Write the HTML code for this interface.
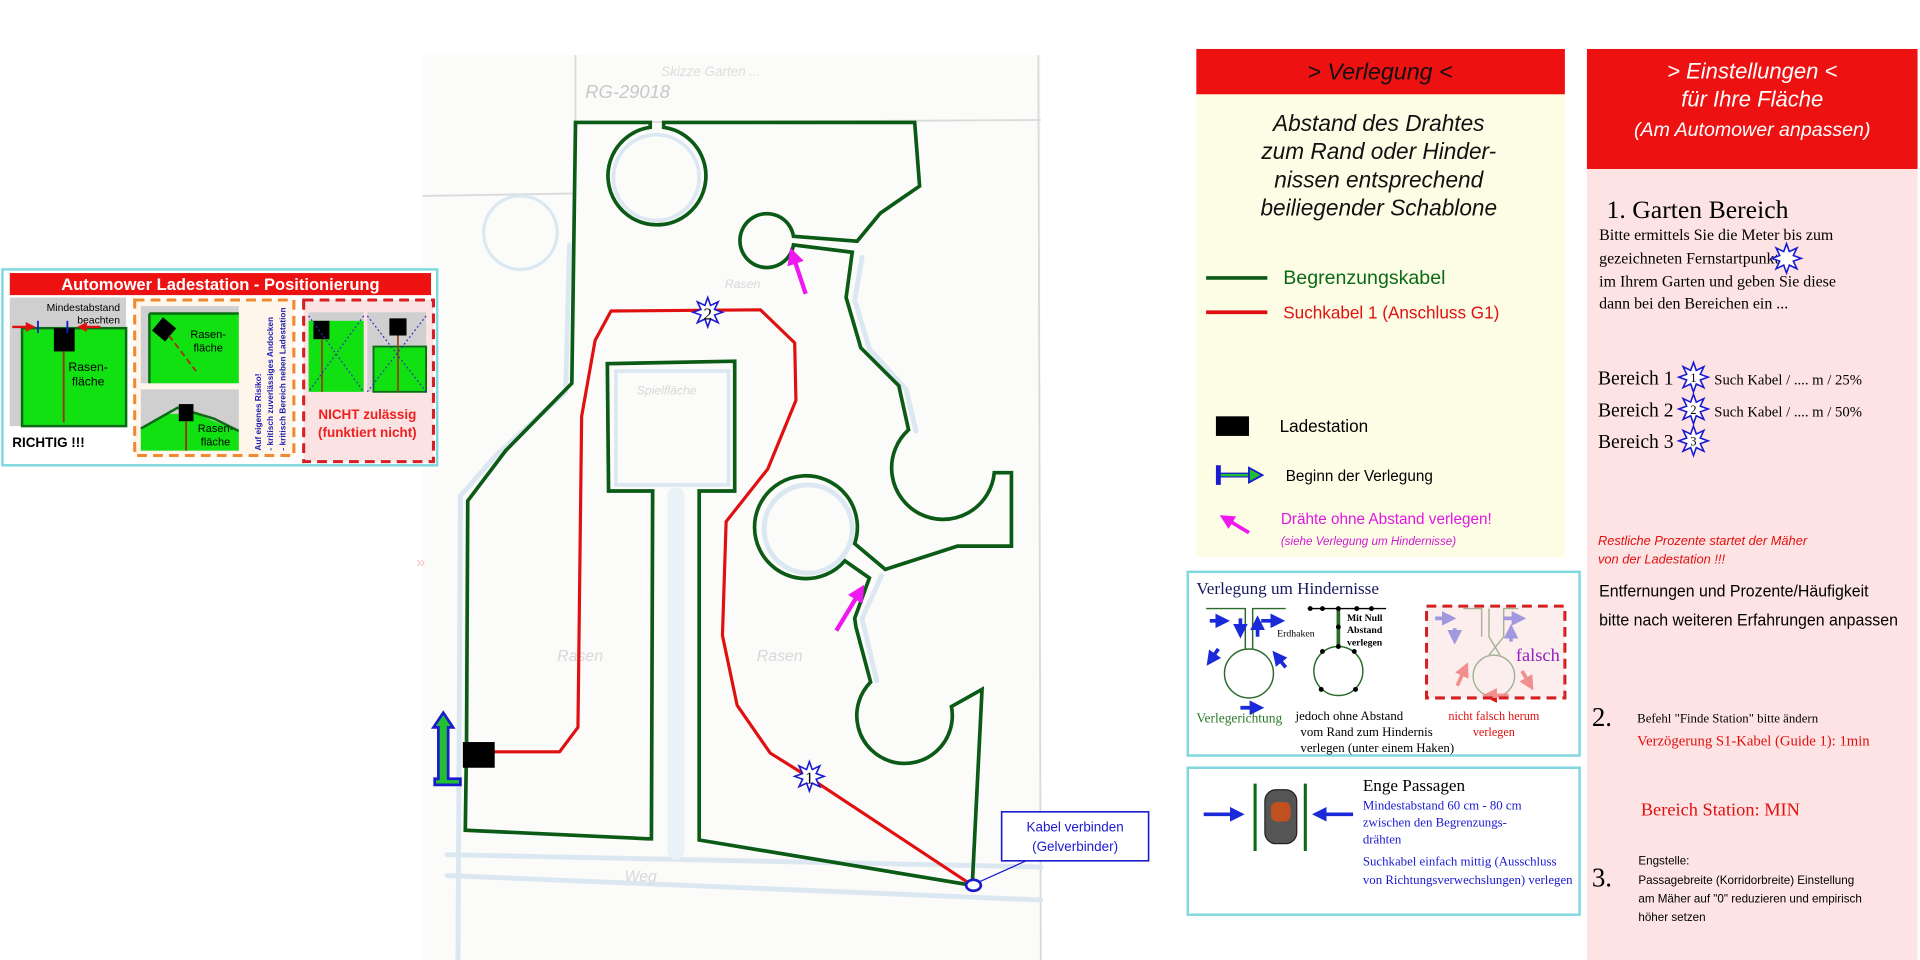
<!DOCTYPE html>
<html><head><meta charset="utf-8"><style>
html,body{margin:0;padding:0;background:#fff;width:1920px;height:960px;overflow:hidden}
svg{display:block}
text{font-family:"Liberation Sans",sans-serif}
.s,.s text,text.s{font-family:"Liberation Serif",serif}
</style></head><body>
<svg width="1920" height="960" viewBox="0 0 1568 784" xmlns="http://www.w3.org/2000/svg">
<defs>
<polygon id="st" points="0,-12 2.3,-5.54 8.49,-8.49 5.54,-2.3 12,0 5.54,2.3 8.49,8.49 2.3,5.54 0,12 -2.3,5.54 -8.49,8.49 -5.54,2.3 -12,0 -5.54,-2.3 -8.49,-8.49 -2.3,-5.54" fill="#fff" stroke="#1a1ad0" stroke-width="1.3"/>
<marker id="ab" markerWidth="4" markerHeight="4" refX="2.5" refY="2" orient="auto" markerUnits="strokeWidth"><path d="M0,0 L4,2 L0,4 z" fill="#1a2ad8"/></marker>
<marker id="ar" markerWidth="4" markerHeight="4" refX="2.5" refY="2" orient="auto" markerUnits="strokeWidth"><path d="M0,0 L4,2 L0,4 z" fill="#e01010"/></marker>
<marker id="am" markerWidth="4" markerHeight="4" refX="2.5" refY="2" orient="auto" markerUnits="strokeWidth"><path d="M0,0 L4,2 L0,4 z" fill="#f018f0"/></marker>
</defs>

<!-- paper sketch background -->
<rect x="345" y="45" width="505" height="739" fill="#fbfbf9"/>
<g stroke="#dadada" stroke-width="1.5" fill="none">
<line x1="470" y1="45" x2="470" y2="100"/>
<line x1="470" y1="100" x2="850" y2="98"/>
<line x1="345" y1="160" x2="470" y2="158"/>
<line x1="848" y1="45" x2="850" y2="784"/>
</g>
<text x="478" y="80" font-size="15" fill="#c8c8c8" font-style="italic">RG-29018</text>
<text x="540" y="62" font-size="11" fill="#ddd" font-style="italic">Skizze Garten ...</text>
<!-- light blue shadows -->
<g stroke="#dbe8f2" stroke-width="4" fill="none" stroke-linecap="round">
<path d="M374,784 L376,405 L405,372 L462,320 L465,200"/>
<circle cx="425" cy="190" r="30" stroke-width="2.5"/>
<line x1="365" y1="698" x2="850" y2="708"/>
<line x1="365" y1="715" x2="850" y2="735"/>
<path d="M704,210 L698,245 L710,285 L740,318 L748,352"/>
<path d="M720,470 L704,505 L716,556"/>
<rect x="503" y="303" width="92" height="93" stroke-width="3"/>
<line x1="552" y1="405" x2="552" y2="695" stroke-width="14" stroke="#eaf1f7"/>
<circle cx="660" cy="432" r="36" stroke-width="4"/>
<circle cx="536" cy="145" r="35" stroke-width="3"/>
</g>
<g font-size="13" fill="#d8d8d8" font-style="italic">
<text x="455" y="540">Rasen</text><text x="618" y="540">Rasen</text><text x="520" y="322" font-size="10">Spielfläche</text><text x="592" y="235" font-size="10">Rasen</text><text x="510" y="720">Weg</text>
</g>
<g fill="#f5c0c0" font-size="13"><text x="340" y="292">»</text><text x="340" y="463">»</text></g>

<!-- green boundary -->
<path fill="none" stroke="#0b5a16" stroke-width="3" stroke-linejoin="miter" d="
M381,606 L382,409 L413,368 L467,313 L470,100 L531,100 L531,104
A40,40 0 1 0 542,104 L542,100 L747,100 L751,152 L719,174 L700,197 L648,193
A22,22 0 1 0 648,200 L696,206 L691,243 L703,284 L734,315 L742,351
A42,42 0 1 0 812,386 L826,386 L826,446 L782,446 L723,465 L698,444
A42,42 0 1 0 690,458 L710,472 L698,505 L699,512 L711,557
A39,39 0 1 0 777,577 L802,563 L794,723 L571,686 L571,401 L600,401 L600,295 L496,297 L497,401 L533,401 L532,685 L529,685 L380,678 Z"/>

<!-- red guide cable -->
<polyline fill="none" stroke="#e01010" stroke-width="2.6" stroke-linejoin="round" points="403,614 457,614 472,594 475,340 486,278 499,254 621,253 649,280 650,327 627,383 593,426 590,519 602,576 629,615 661,635 794,723"/>

<!-- stars -->
<use href="#st" x="578" y="255"/><text x="578" y="261" text-anchor="middle" font-size="14" class="s">2</text>
<use href="#st" x="661" y="634"/><text x="661" y="640" text-anchor="middle" font-size="14" class="s">1</text>

<!-- station box & start arrow -->
<rect x="378" y="606" width="26" height="21" fill="#000"/>
<path d="M362,582 L370,594 L366,594 L366,636 L376,636 L376,641 L355,641 L355,636 L358,636 L358,594 L354,594 Z" fill="#22c030" stroke="#1a1ad0" stroke-width="2.2"/>

<!-- pink arrows -->
<line x1="658" y1="240" x2="647" y2="207" stroke="#f018f0" stroke-width="3.5" marker-end="url(#am)"/>
<line x1="683" y1="515" x2="703" y2="482" stroke="#f018f0" stroke-width="3.5" marker-end="url(#am)"/>

<!-- Kabel verbinden -->
<ellipse cx="795" cy="723" rx="6" ry="4.5" fill="#fff" stroke="#1a1ad0" stroke-width="2.2"/>
<path d="M800,720 L838,703 L850,703" fill="none" stroke="#1a1ad0" stroke-width="1"/>
<rect x="818" y="663" width="120" height="40" fill="#fff" stroke="#1a1ad0" stroke-width="1.3"/>
<text x="878" y="679" text-anchor="middle" font-size="11" fill="#1a1ad0">Kabel verbinden</text>
<text x="878" y="695" text-anchor="middle" font-size="11" fill="#1a1ad0">(Gelverbinder)</text>

<!-- ===== LEFT PANEL ===== -->
<rect x="2" y="220" width="355" height="160" fill="#fff" stroke="#7fd8e0" stroke-width="2"/>
<rect x="8" y="223" width="344" height="18" fill="#ee1111"/>
<text x="180" y="237" text-anchor="middle" font-size="13.5" font-weight="bold" fill="#fff">Automower Ladestation - Positionierung</text>
<rect x="8" y="243" width="95" height="105" fill="#cfcfcf"/>
<rect x="18" y="268" width="85" height="80" fill="#11e011" stroke="#0b6a16" stroke-width="2"/>
<rect x="44" y="268" width="17" height="19" fill="#000"/>
<line x1="52" y1="287" x2="52" y2="345" stroke="#a03010" stroke-width="1.5"/>
<text x="98" y="254" text-anchor="end" font-size="8.5">Mindestabstand</text>
<text x="98" y="264" text-anchor="end" font-size="8.5">beachten</text>
<line x1="10" y1="267" x2="26" y2="267" stroke="#e01010" stroke-width="2" marker-end="url(#ar)"/>
<line x1="82" y1="267" x2="66" y2="267" stroke="#e01010" stroke-width="2" marker-end="url(#ar)"/>
<line x1="31" y1="262" x2="31" y2="272" stroke="#1a1ad0" stroke-width="1.5"/>
<line x1="55" y1="262" x2="55" y2="272" stroke="#1a1ad0" stroke-width="1.5"/>
<text x="72" y="303" text-anchor="middle" font-size="10">Rasen-</text><text x="72" y="315" text-anchor="middle" font-size="10">fläche</text>
<text x="10" y="365" font-size="11" font-weight="bold">RICHTIG !!!</text>
<rect x="110" y="245" width="130" height="127" fill="#fff5ea" stroke="#f08a30" stroke-width="2.5" stroke-dasharray="8,5"/>
<rect x="115" y="250" width="80" height="63" fill="#cfcfcf"/>
<rect x="122" y="256" width="73" height="57" fill="#11e011"/>
<line x1="122" y1="256" x2="195" y2="256" stroke="#0b6a16" stroke-width="2"/><line x1="122" y1="256" x2="122" y2="313" stroke="#0b6a16" stroke-width="2"/>
<rect x="127" y="262" width="14" height="14" fill="#000" transform="rotate(40 134 269)"/>
<line x1="138" y1="274" x2="160" y2="303" stroke="#a03010" stroke-width="1.5" stroke-dasharray="5,3"/>
<text x="170" y="276" text-anchor="middle" font-size="9">Rasen-</text><text x="170" y="287" text-anchor="middle" font-size="9">fläche</text>
<rect x="115" y="318" width="80" height="50" fill="#cfcfcf"/>
<path d="M115,368 L115,350 L138,338 L160,338 L195,352 L195,368 Z" fill="#11e011"/>
<path d="M115,350 L145,333 L175,342 L195,352" fill="none" stroke="#0b6a16" stroke-width="2"/>
<rect x="146" y="330" width="12" height="14" fill="#000"/>
<line x1="152" y1="344" x2="152" y2="368" stroke="#a03010" stroke-width="1.5"/>
<text x="176" y="353" text-anchor="middle" font-size="9">Rasen-</text><text x="176" y="364" text-anchor="middle" font-size="9">fläche</text>
<g font-size="6.8" font-weight="bold" fill="#2020b0">
<text transform="translate(213,368) rotate(-90)">Auf eigenes Risiko!</text>
<text transform="translate(223,368) rotate(-90)">- kritisch zuverlässiges Andocken</text>
<text transform="translate(233,368) rotate(-90)">- kritisch Bereich neben Ladestation</text>
</g>
<rect x="248" y="245" width="106" height="132" fill="#fbe3e3" stroke="#d42020" stroke-width="2.5" stroke-dasharray="8,5"/>
<rect x="252" y="255" width="45" height="65" fill="#cfcfcf"/><rect x="252" y="262" width="45" height="58" fill="#11e011"/>
<rect x="256" y="262" width="13" height="15" fill="#000"/>
<line x1="263" y1="277" x2="263" y2="320" stroke="#a03010" stroke-width="1.3"/>
<line x1="252" y1="258" x2="297" y2="320" stroke="#3030c0" stroke-dasharray="1.5,2"/><line x1="297" y1="258" x2="252" y2="320" stroke="#3030c0" stroke-dasharray="1.5,2"/>
<rect x="300" y="255" width="48" height="65" fill="#cfcfcf"/><rect x="305" y="283" width="43" height="37" fill="#11e011" stroke="#0b6a16" stroke-width="1.5"/>
<rect x="318" y="260" width="14" height="14" fill="#000"/>
<line x1="325" y1="274" x2="325" y2="320" stroke="#a03010" stroke-width="1.3"/>
<line x1="300" y1="258" x2="348" y2="320" stroke="#3030c0" stroke-dasharray="1.5,2"/><line x1="348" y1="258" x2="300" y2="320" stroke="#3030c0" stroke-dasharray="1.5,2"/>
<text x="300" y="342" text-anchor="middle" font-size="11" font-weight="bold" fill="#ee2020">NICHT zulässig</text>
<text x="300" y="357" text-anchor="middle" font-size="11" font-weight="bold" fill="#ee2020">(funktiert nicht)</text>

<!-- ===== VERLEGUNG COLUMN ===== -->
<rect x="977" y="77" width="301" height="378" fill="#fdfde6"/>
<rect x="977" y="40" width="301" height="37" fill="#ee1111"/>
<text x="1127" y="65" text-anchor="middle" font-size="19" font-style="italic" fill="#111">&gt; Verlegung &lt;</text>
<g font-size="18.5" font-style="italic" text-anchor="middle" fill="#111">
<text x="1126" y="107">Abstand des Drahtes</text>
<text x="1126" y="130">zum Rand oder Hinder-</text>
<text x="1126" y="153">nissen entsprechend</text>
<text x="1126" y="176">beiliegender Schablone</text>
</g>
<line x1="985" y1="227" x2="1035" y2="227" stroke="#0b5a16" stroke-width="3"/>
<text x="1048" y="232" font-size="16" fill="#0b6a16">Begrenzungskabel</text>
<line x1="985" y1="255" x2="1035" y2="255" stroke="#e01010" stroke-width="3"/>
<text x="1048" y="260" font-size="14" fill="#e01010">Suchkabel 1 (Anschluss G1)</text>
<rect x="993" y="340" width="27" height="16" fill="#000"/>
<text x="1045" y="353" font-size="14">Ladestation</text>
<path d="M995,380 L995,396 M995,388 L1022,388" stroke="#1a1ad0" stroke-width="4" fill="none"/>
<line x1="997" y1="388" x2="1022" y2="388" stroke="#22c030" stroke-width="2"/>
<path d="M1020,382 L1031,388 L1020,394 Z" fill="#22c030" stroke="#1a1ad0" stroke-width="1.5"/>
<text x="1050" y="393" font-size="12.5">Beginn der Verlegung</text>
<line x1="1020" y1="435" x2="1000" y2="423" stroke="#f018f0" stroke-width="3" marker-end="url(#am)"/>
<text x="1046" y="428" font-size="12.5" fill="#e018e0">Drähte ohne Abstand verlegen!</text>
<text x="1046" y="445" font-size="9.5" font-style="italic" fill="#d018d0">(siehe Verlegung um Hindernisse)</text>

<!-- Hindernisse box -->
<rect x="970" y="467" width="320" height="150" fill="#fff" stroke="#7fd8e0" stroke-width="2"/>
<text x="977" y="485" font-size="14" class="s" fill="#1a1a60">Verlegung um Hindernisse</text>
<g fill="none" stroke="#2a6a2a" stroke-width="1.2">
<path d="M985,497 L1017,497 L1017,530 M1050,497 L1023,497 L1023,530"/>
<circle cx="1020" cy="550" r="20"/>
<line x1="1068" y1="497" x2="1132" y2="497" stroke="#000"/>
<line x1="1093" y1="497" x2="1093" y2="528" stroke="#2a6a2a" stroke-width="3"/>
<circle cx="1093" cy="548" r="20"/>
<path d="M1216,497 L1216,520 L1225,535 M1240,497 L1228,497 L1228,520 L1216,535 M1195,497 L1210,497 L1210,520"/>
<circle cx="1220" cy="552" r="17"/>
</g>
<g fill="#000"><circle cx="1070" cy="497" r="2"/><circle cx="1080" cy="497" r="2"/><circle cx="1093" cy="497" r="2"/><circle cx="1108" cy="497" r="2"/><circle cx="1120" cy="497" r="2"/>
<circle cx="1093" cy="512" r="2"/><circle cx="1093" cy="528" r="2"/><circle cx="1080" cy="532" r="2"/><circle cx="1106" cy="532" r="2"/><circle cx="1079" cy="563" r="2"/><circle cx="1107" cy="563" r="2"/></g>
<g stroke="#1a2ad8" stroke-width="3" marker-end="url(#ab)">
<line x1="988" y1="507" x2="1000" y2="507"/><line x1="1030" y1="507" x2="1045" y2="507"/>
<line x1="1013" y1="505" x2="1013" y2="517"/><line x1="1027" y1="520" x2="1027" y2="507"/>
<line x1="995" y1="530" x2="988" y2="540"/><line x1="1050" y1="545" x2="1042" y2="535"/>
<line x1="1013" y1="578" x2="1028" y2="578"/>
<line x1="1172" y1="505" x2="1185" y2="505"/><line x1="1228" y1="505" x2="1242" y2="505"/>
<line x1="1188" y1="513" x2="1188" y2="522"/><line x1="1234" y1="524" x2="1234" y2="514"/>
</g>
<g stroke="#e01010" stroke-width="3" marker-end="url(#ar)">
<line x1="1190" y1="560" x2="1197" y2="545"/><line x1="1243" y1="548" x2="1250" y2="560"/><line x1="1232" y1="568" x2="1215" y2="568"/>
</g>
<text x="1043" y="520" font-size="8" class="s">Erdhaken</text>
<g class="s" font-size="8" font-weight="bold"><text x="1100" y="507">Mit Null</text><text x="1100" y="517">Abstand</text><text x="1100" y="527">verlegen</text></g>
<text x="977" y="590" font-size="11" class="s" fill="#2a7a2a">Verlegerichtung</text>
<g font-size="10.5" class="s"><text x="1058" y="588">jedoch ohne Abstand</text><text x="1062" y="601">vom Rand zum Hindernis</text><text x="1062" y="614">verlegen (unter einem Haken)</text></g>
<rect x="1165" y="495" width="113" height="75" fill="#fbe3e3" fill-opacity="0.6" stroke="#d42020" stroke-width="2.5" stroke-dasharray="8,5"/>
<text x="1238" y="540" font-size="15" class="s" fill="#9020c0">falsch</text>
<text x="1220" y="588" text-anchor="middle" font-size="10" class="s" fill="#e01010">nicht falsch herum</text>
<text x="1220" y="601" text-anchor="middle" font-size="10" class="s" fill="#e01010">verlegen</text>

<!-- Enge Passagen -->
<rect x="970" y="627" width="320" height="120" fill="#fff" stroke="#7fd8e0" stroke-width="2"/>
<line x1="1025" y1="640" x2="1025" y2="695" stroke="#0b6a16" stroke-width="2.5"/>
<line x1="1066" y1="640" x2="1066" y2="695" stroke="#0b6a16" stroke-width="2.5"/>
<rect x="1033" y="645" width="26" height="44" rx="9" fill="#555" stroke="#222"/>
<rect x="1038" y="655" width="16" height="16" rx="5" fill="#c05020"/>
<line x1="983" y1="665" x2="1012" y2="665" stroke="#1a2ad8" stroke-width="3" marker-end="url(#ab)"/>
<line x1="1105" y1="665" x2="1076" y2="665" stroke="#1a2ad8" stroke-width="3" marker-end="url(#ab)"/>
<text x="1113" y="646" font-size="14" class="s">Enge Passagen</text>
<g font-size="10.5" class="s" fill="#1a1ad0"><text x="1113" y="661">Mindestabstand 60 cm - 80 cm</text><text x="1113" y="675">zwischen den Begrenzungs-</text><text x="1113" y="689">drähten</text><text x="1113" y="707">Suchkabel einfach mittig (Ausschluss</text><text x="1113" y="722">von Richtungsverwechslungen) verlegen</text></g>

<!-- ===== EINSTELLUNGEN COLUMN ===== -->
<rect x="1296" y="138" width="270" height="646" fill="#fde3e3"/>
<rect x="1296" y="40" width="270" height="98" fill="#ee1111"/>
<g fill="#fff" text-anchor="middle"><text x="1431" y="64" font-size="18" font-style="italic">&gt; Einstellungen &lt;</text>
<text x="1431" y="87" font-size="18" font-style="italic">für Ihre Fläche</text>
<text x="1431" y="111" font-size="16" font-style="italic">(Am Automower anpassen)</text></g>
<text x="1312" y="178" font-size="21" class="s">1. Garten Bereich</text>
<g font-size="13" class="s"><text x="1306" y="196">Bitte ermittels Sie die Meter bis zum</text>
<text x="1306" y="215">gezeichneten Fernstartpunkt</text>
<text x="1306" y="234">im Ihrem Garten und geben Sie diese</text>
<text x="1306" y="252">dann bei den Bereichen ein ...</text></g>
<use href="#st" x="1459" y="211"/>
<g font-size="16" class="s"><text x="1305" y="314">Bereich 1</text><text x="1305" y="340">Bereich 2</text><text x="1305" y="366">Bereich 3</text></g>
<use href="#st" x="1383" y="308"/><text x="1383" y="312" text-anchor="middle" font-size="10" class="s">1</text>
<use href="#st" x="1383" y="334"/><text x="1383" y="338" text-anchor="middle" font-size="10" class="s">2</text>
<use href="#st" x="1383" y="360"/><text x="1383" y="364" text-anchor="middle" font-size="10" class="s">3</text>
<g font-size="12" class="s"><text x="1400" y="314">Such Kabel / .... m / 25%</text><text x="1400" y="340">Such Kabel / .... m / 50%</text></g>
<g font-size="10.5" font-style="italic" fill="#e01010"><text x="1305" y="445">Restliche Prozente  startet der Mäher</text><text x="1305" y="460">von der Ladestation !!!</text></g>
<g font-size="13.5"><text x="1306" y="487" textLength="220" lengthAdjust="spacingAndGlyphs">Entfernungen und Prozente/Häufigkeit</text><text x="1306" y="511" textLength="244" lengthAdjust="spacingAndGlyphs">bitte nach weiteren Erfahrungen anpassen</text></g>
<text x="1300" y="593" font-size="22" class="s">2.</text>
<text x="1337" y="590" font-size="10.5" class="s">Befehl "Finde Station" bitte ändern</text>
<text x="1337" y="609" font-size="12" class="s" fill="#e01010">Verzögerung S1-Kabel (Guide 1): 1min</text>
<text x="1340" y="666" font-size="15" class="s" fill="#e01010">Bereich Station: MIN</text>
<text x="1300" y="724" font-size="22" class="s">3.</text>
<g font-size="9.5"><text x="1338" y="706">Engstelle:</text><text x="1338" y="722">Passagebreite (Korridorbreite) Einstellung</text><text x="1338" y="737">am Mäher auf "0" reduzieren und empirisch</text><text x="1338" y="752">höher setzen</text></g>
</svg>
</body></html>
